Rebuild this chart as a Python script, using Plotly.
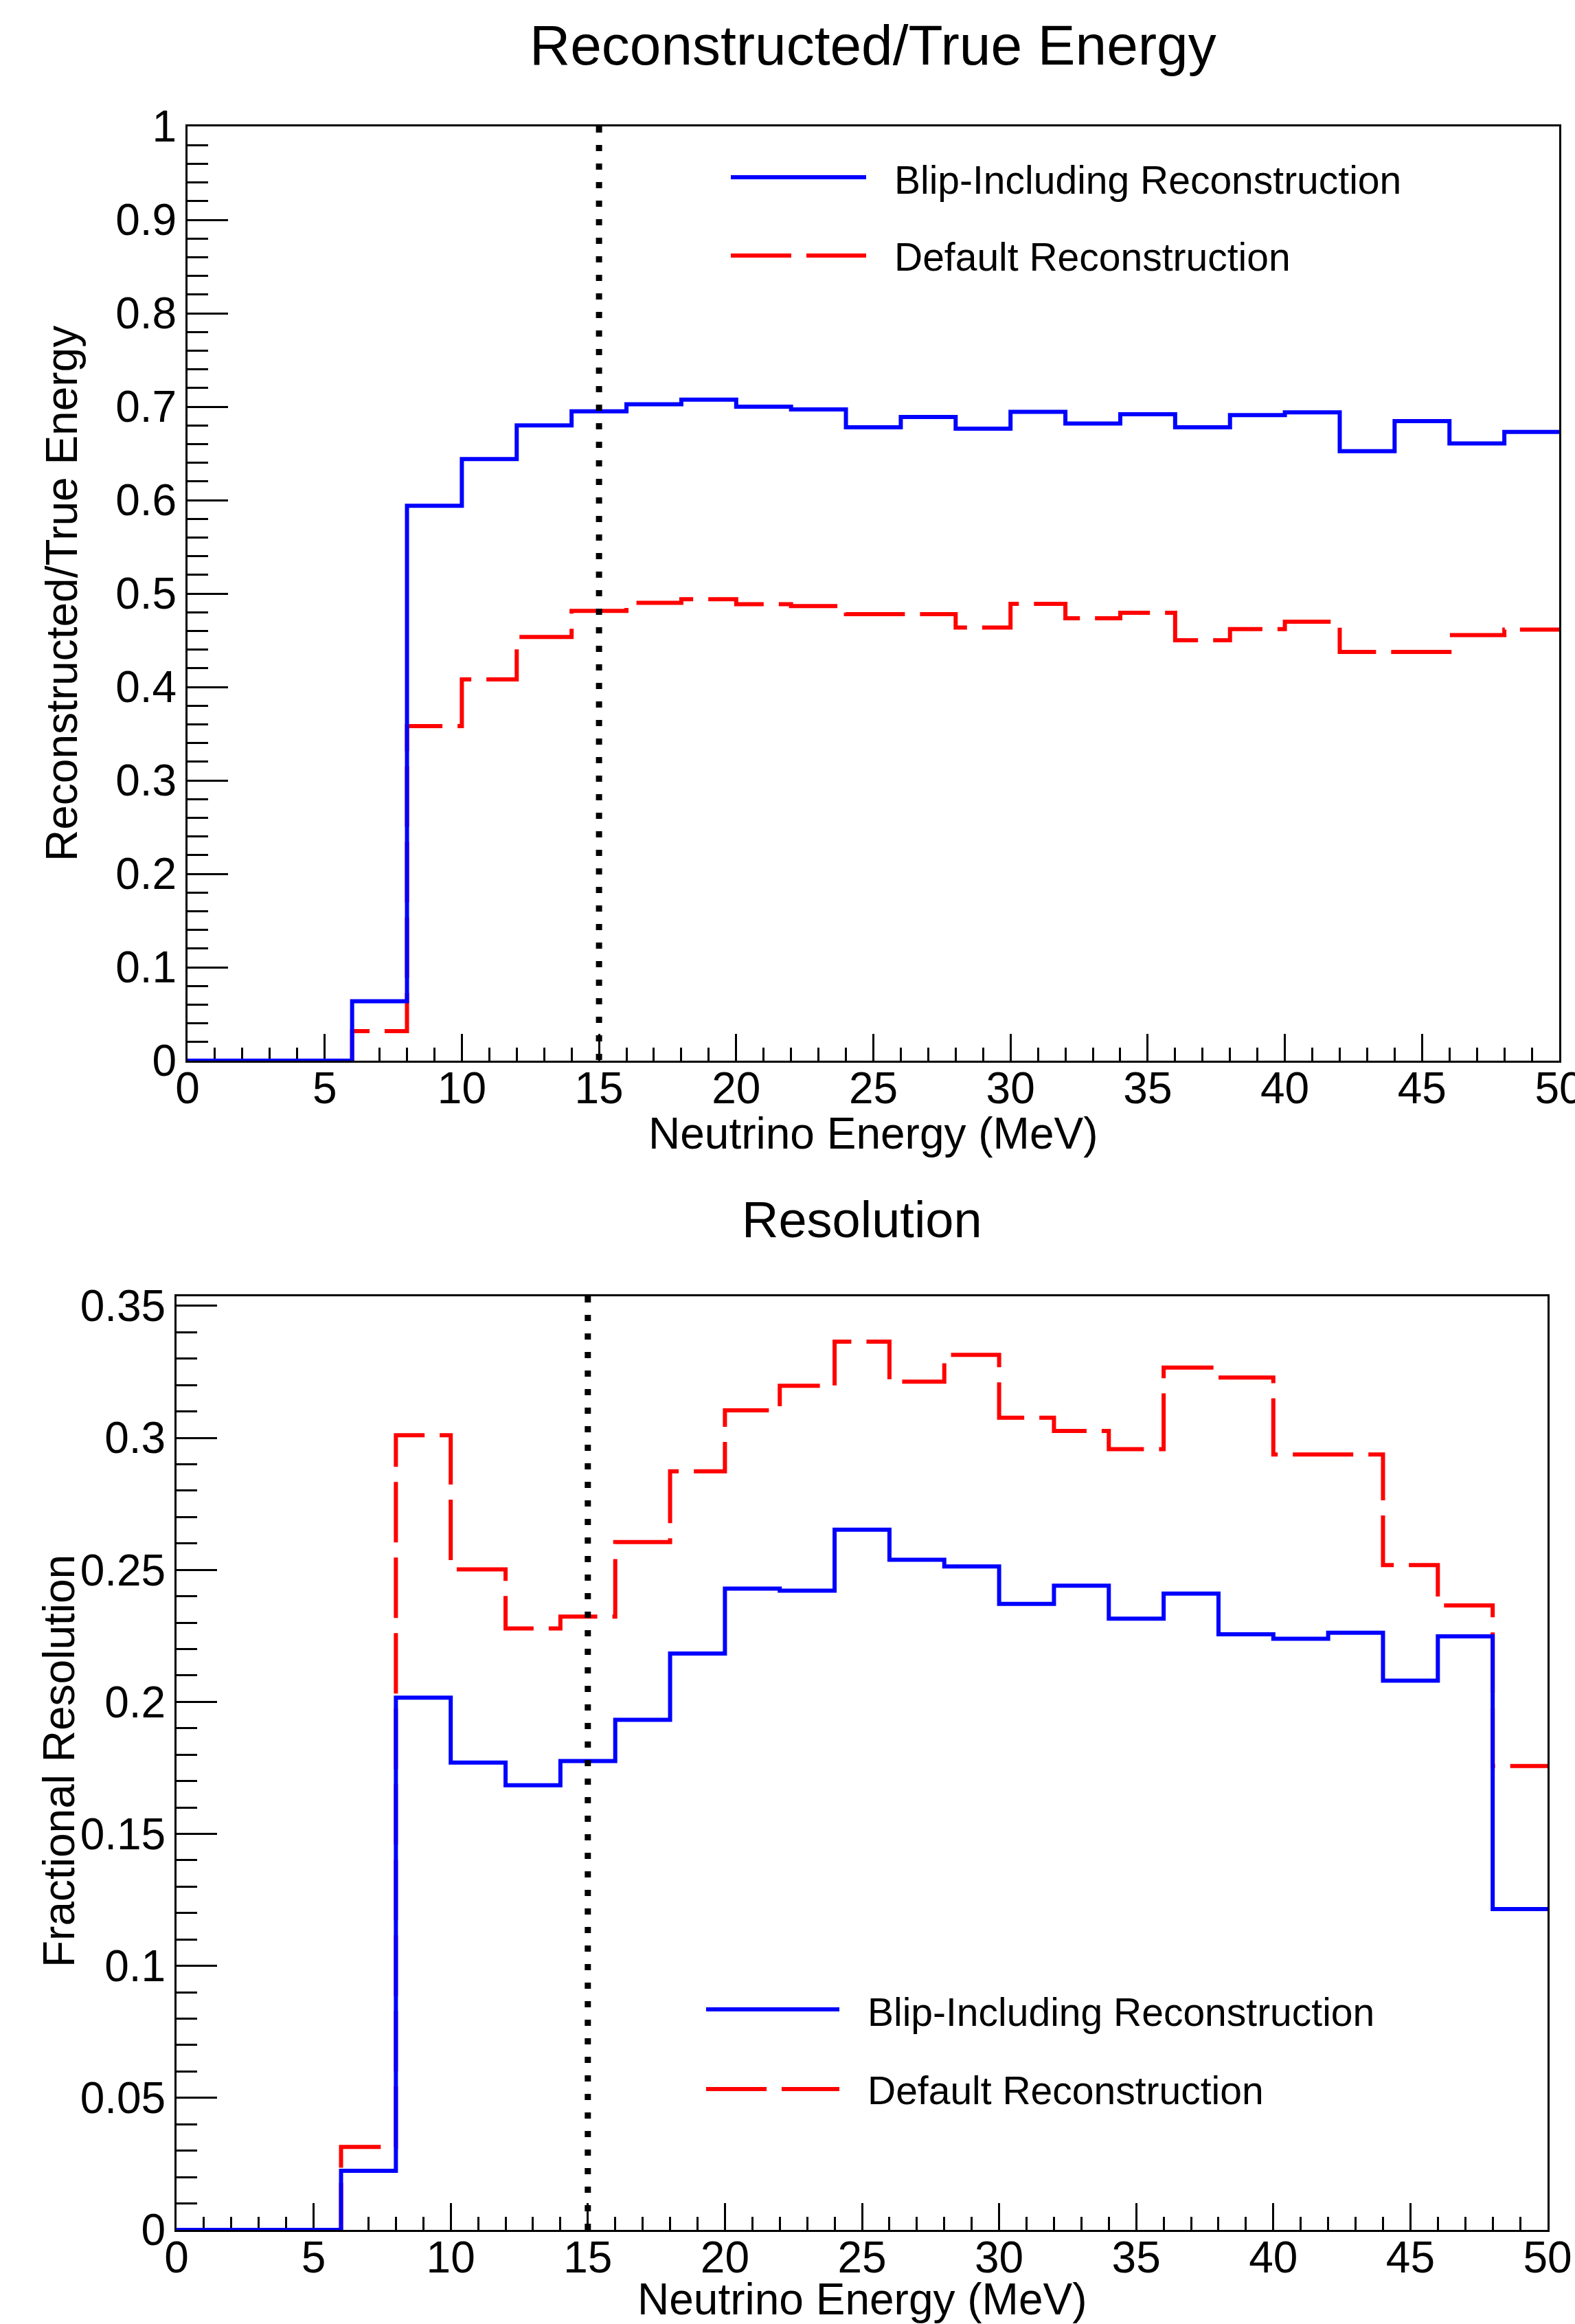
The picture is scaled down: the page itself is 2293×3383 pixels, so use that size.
import plotly.graph_objects as go

# ---------------- data ----------------
bin_edges = list(range(0, 52, 2))  # 0..50 MeV, 2 MeV bins

ratio_blip = [0, 0, 0, 0.0636, 0.594, 0.644, 0.680, 0.695, 0.7026, 0.7076,
              0.700, 0.697, 0.678, 0.689, 0.6765, 0.6944, 0.682, 0.6919,
              0.678, 0.691, 0.694, 0.6524, 0.6845, 0.6607, 0.673]
ratio_default = [0, 0, 0, 0.0316, 0.358, 0.408, 0.4535, 0.4815, 0.490, 0.494,
                 0.4886, 0.4866, 0.478, 0.478, 0.4636, 0.489, 0.4735, 0.4794,
                 0.450, 0.462, 0.4698, 0.4375, 0.4375, 0.4555, 0.4614]

res_blip = [0, 0, 0, 0.0224, 0.2016, 0.177, 0.1684, 0.1776, 0.1932, 0.2183,
            0.2429, 0.2421, 0.2652, 0.2538, 0.2513, 0.2371, 0.244, 0.2315,
            0.241, 0.2256, 0.2239, 0.2262, 0.208, 0.2248, 0.1215]
res_default = [0, 0, 0, 0.0314, 0.301, 0.2502, 0.2278, 0.2323, 0.2605, 0.2873,
               0.3104, 0.3197, 0.3364, 0.3213, 0.3314, 0.3076, 0.3026, 0.2957,
               0.3266, 0.3228, 0.2937, 0.2937, 0.2518, 0.2365, 0.1757]

threshold = 15  # MeV, dotted vertical line

x_ticks = [0, 5, 10, 15, 20, 25, 30, 35, 40, 45, 50]
x_ticklabels = ["0", "5", "10", "15", "20", "25", "30", "35", "40", "45", "50"]
y1_ticks = [0, 0.1, 0.2, 0.3, 0.4, 0.5, 0.6, 0.7, 0.8, 0.9, 1.0]
y1_ticklabels = ["0", "0.1", "0.2", "0.3", "0.4", "0.5", "0.6", "0.7", "0.8", "0.9", "1"]
y2_ticks = [0, 0.05, 0.1, 0.15, 0.2, 0.25, 0.3, 0.35]
y2_ticklabels = ["0", "0.05", "0.1", "0.15", "0.2", "0.25", "0.3", "0.35"]

names = ["Blip-Including Reconstruction", "Default Reconstruction"]
title_top = "Reconstructed/True Energy"
title_bottom = "Resolution"
xlabel = "Neutrino Energy (MeV)"
ylabel_top = "Reconstructed/True Energy"
ylabel_bottom = "Fractional Resolution"

# ---------------- layout helpers ----------------
W, H = 2293, 3383
FONT = "Liberation Sans, Arial, sans-serif"
BLUE = "#0000ff"
RED = "#ff0000"
RED_DASH = "88px,22px"


def px(p):
    return p / W


def py(p):
    return 1 - p / H


def step_y(vals):
    return vals + [vals[-1]]


fig = go.Figure()

# top panel (default first so blip line sits on top, as in the original)
fig.add_trace(go.Scatter(x=bin_edges, y=step_y(ratio_default), mode="lines",
                         line=dict(shape="hv", color=RED, width=6, dash=RED_DASH),
                         name=names[1], showlegend=False, xaxis="x", yaxis="y"))
fig.add_trace(go.Scatter(x=bin_edges, y=step_y(ratio_blip), mode="lines",
                         line=dict(shape="hv", color=BLUE, width=6),
                         name=names[0], showlegend=False, xaxis="x", yaxis="y"))
# bottom panel
fig.add_trace(go.Scatter(x=bin_edges, y=step_y(res_default), mode="lines",
                         line=dict(shape="hv", color=RED, width=6, dash=RED_DASH),
                         name=names[1], showlegend=False, xaxis="x2", yaxis="y2"))
fig.add_trace(go.Scatter(x=bin_edges, y=step_y(res_blip), mode="lines",
                         line=dict(shape="hv", color=BLUE, width=6),
                         name=names[0], showlegend=False, xaxis="x2", yaxis="y2"))

tickfont = dict(family=FONT, size=64, color="black")
titlefont = dict(family=FONT, size=64, color="black")


def xaxis_cfg(domain, anchor):
    return dict(domain=domain, anchor=anchor, range=[0, 50], automargin=False,
                showline=True, linecolor="black", linewidth=3, mirror=True,
                ticks="inside", ticklen=39, tickwidth=3, tickcolor="black",
                tickmode="array", tickvals=x_ticks, ticktext=x_ticklabels,
                ticklabelstandoff=-18, ticklabeloverflow="allow",
                minor=dict(ticks="inside", ticklen=19, tickwidth=3,
                           tickcolor="black", dtick=1, tick0=0, showgrid=False),
                showgrid=False, zeroline=False, tickfont=tickfont,
                layer="below traces", fixedrange=True)


def yaxis_cfg(domain, anchor, rng, tv, tt, mdt):
    return dict(domain=domain, anchor=anchor, range=rng, automargin=False,
                showline=True, linecolor="black", linewidth=3, mirror=True,
                ticks="inside", ticklen=59, tickwidth=3, tickcolor="black",
                tickmode="array", tickvals=tv, ticktext=tt,
                minor=dict(ticks="inside", ticklen=30, tickwidth=3,
                           tickcolor="black", dtick=mdt, tick0=0, showgrid=False),
                showgrid=False, zeroline=False, tickfont=tickfont,
                layer="below traces", fixedrange=True)


x1_dom = [px(273), px(2270)]
y1_dom = [py(1544), py(184)]
x2_dom = [px(257), px(2253)]
y2_dom = [py(3246), py(1887)]

fig.update_layout(
    width=W, height=H, autosize=False,
    margin=dict(l=0, r=0, t=0, b=0, pad=0, autoexpand=False),
    paper_bgcolor="white", plot_bgcolor="white",
    font=dict(family=FONT, color="black"),
    showlegend=False,
    xaxis=xaxis_cfg(x1_dom, "y"),
    yaxis=yaxis_cfg(y1_dom, "x", [0, 1.0], y1_ticks, y1_ticklabels, 0.02),
    xaxis2=xaxis_cfg(x2_dom, "y2"),
    yaxis2=yaxis_cfg(y2_dom, "x2", [0, 0.3536], y2_ticks, y2_ticklabels, 0.01),
)

shapes = []
annotations = []

# dotted threshold lines
for xr, yr in (("x", "y domain"), ("x2", "y2 domain")):
    shapes.append(dict(type="line", xref=xr, yref=yr, x0=threshold, x1=threshold,
                       y0=1, y1=0, line=dict(color="black", width=9, dash="9px,18px"),
                       layer="above"))

# manual legends (long sample lines like ROOT TLegend)
legend_specs = [
    # (line x0, line x1, y blue, y red, text x)
    (1064, 1261, 258, 372, 1300),
    (1028, 1222, 2925, 3041, 1261),
]
for lx0, lx1, yb, yrd, tx in legend_specs:
    shapes.append(dict(type="line", xref="paper", yref="paper",
                       x0=px(lx0), x1=px(lx1), y0=py(yb), y1=py(yb),
                       line=dict(color=BLUE, width=6)))
    shapes.append(dict(type="line", xref="paper", yref="paper",
                       x0=px(lx0), x1=px(lx1), y0=py(yrd), y1=py(yrd),
                       line=dict(color=RED, width=6, dash=RED_DASH)))
    annotations.append(dict(xref="paper", yref="paper", x=px(tx), y=py(yb + 4),
                            xanchor="left", yanchor="middle", showarrow=False,
                            text=names[0], font=dict(family=FONT, size=57, color="black")))
    annotations.append(dict(xref="paper", yref="paper", x=px(tx), y=py(yrd + 2),
                            xanchor="left", yanchor="middle", showarrow=False,
                            text=names[1], font=dict(family=FONT, size=57, color="black")))

# panel titles
annotations.append(dict(xref="paper", yref="paper", x=px(1271), y=py(65),
                        xanchor="center", yanchor="middle", showarrow=False,
                        text=title_top, font=dict(family=FONT, size=82, color="black")))
annotations.append(dict(xref="paper", yref="paper", x=px(1255), y=py(1775),
                        xanchor="center", yanchor="middle", showarrow=False,
                        text=title_bottom, font=dict(family=FONT, size=74, color="black")))

# axis titles
annotations.append(dict(xref="paper", yref="paper", x=px(1271), y=py(1650),
                        xanchor="center", yanchor="middle", showarrow=False,
                        text=xlabel, font=titlefont))
annotations.append(dict(xref="paper", yref="paper", x=px(1255), y=py(3347),
                        xanchor="center", yanchor="middle", showarrow=False,
                        text=xlabel, font=titlefont))
annotations.append(dict(xref="paper", yref="paper", x=px(90), y=py(864),
                        xanchor="center", yanchor="middle", showarrow=False, textangle=-90,
                        text=ylabel_top, font=titlefont))
annotations.append(dict(xref="paper", yref="paper", x=px(86), y=py(2564),
                        xanchor="center", yanchor="middle", showarrow=False, textangle=-90,
                        text=ylabel_bottom, font=titlefont))

fig.update_layout(shapes=shapes, annotations=annotations)

fig.write_html(
    "out.html",
    config={"displayModeBar": False, "staticPlot": True},
    post_script="document.body.style.margin='0px';document.body.style.padding='0px';",
)
